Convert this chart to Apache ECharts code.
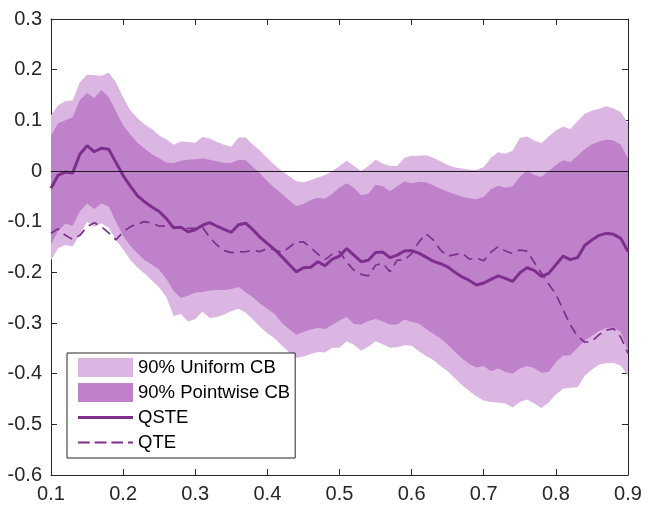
<!DOCTYPE html>
<html>
<head>
<meta charset="utf-8">
<script src="https://cdn.jsdelivr.net/npm/echarts@6/dist/echarts.min.js"></script>
<style>
  html, body { margin: 0; padding: 0; background: #fff; }
  #chart { width: 648px; height: 509px; }
</style>
</head>
<body>
<div id="chart"></div>
<script>
// Quantile grid 0.10 .. 0.90 in steps of 0.01
const quantiles = [
  0.10,0.11,0.12,0.13,0.14,0.15,0.16,0.17,0.18,0.19,
  0.20,0.21,0.22,0.23,0.24,0.25,0.26,0.27,0.28,0.29,
  0.30,0.31,0.32,0.33,0.34,0.35,0.36,0.37,0.38,0.39,
  0.40,0.41,0.42,0.43,0.44,0.45,0.46,0.47,0.48,0.49,
  0.50,0.51,0.52,0.53,0.54,0.55,0.56,0.57,0.58,0.59,
  0.60,0.61,0.62,0.63,0.64,0.65,0.66,0.67,0.68,0.69,
  0.70,0.71,0.72,0.73,0.74,0.75,0.76,0.77,0.78,0.79,
  0.80,0.81,0.82,0.83,0.84,0.85,0.86,0.87,0.88,0.89,
  0.90
];

// 90% uniform confidence band
const uniformUpper = [
  0.110,0.130,0.138,0.139,0.175,0.190,0.189,0.188,0.194,0.175,
  0.145,0.120,0.104,0.092,0.083,0.070,0.062,0.052,0.058,0.057,
  0.056,0.067,0.064,0.057,0.052,0.048,0.066,0.066,0.052,0.040,
  0.025,0.012,0.000,-0.010,-0.020,-0.022,-0.018,-0.013,-0.008,0.000,
  0.010,0.020,0.010,0.000,0.010,0.022,0.015,0.010,0.010,0.026,
  0.030,0.030,0.031,0.026,0.019,0.012,0.007,0.005,0.003,0.002,
  0.008,0.026,0.037,0.034,0.040,0.065,0.068,0.060,0.055,0.068,
  0.080,0.088,0.083,0.098,0.113,0.119,0.123,0.128,0.124,0.116,
  0.094
];
const uniformLower = [
  -0.176,-0.152,-0.146,-0.149,-0.125,-0.100,-0.110,-0.103,-0.112,-0.136,
  -0.155,-0.175,-0.191,-0.203,-0.216,-0.230,-0.249,-0.286,-0.282,-0.297,
  -0.292,-0.278,-0.290,-0.288,-0.283,-0.277,-0.272,-0.280,-0.293,-0.308,
  -0.320,-0.330,-0.345,-0.357,-0.369,-0.366,-0.361,-0.357,-0.358,-0.349,
  -0.349,-0.336,-0.343,-0.355,-0.347,-0.336,-0.342,-0.349,-0.348,-0.344,
  -0.345,-0.356,-0.365,-0.373,-0.385,-0.395,-0.409,-0.423,-0.434,-0.445,
  -0.453,-0.456,-0.457,-0.459,-0.467,-0.456,-0.451,-0.459,-0.468,-0.457,
  -0.441,-0.430,-0.428,-0.427,-0.404,-0.392,-0.382,-0.379,-0.379,-0.384,
  -0.405
];

// 90% pointwise confidence band
const pointwiseUpper = [
  0.070,0.094,0.100,0.106,0.140,0.154,0.144,0.160,0.146,0.118,
  0.090,0.072,0.056,0.044,0.033,0.025,0.017,0.016,0.020,0.022,
  0.023,0.025,0.022,0.019,0.016,0.016,0.022,0.021,0.008,-0.005,
  -0.020,-0.033,-0.045,-0.057,-0.069,-0.065,-0.057,-0.053,-0.055,-0.045,
  -0.033,-0.024,-0.033,-0.048,-0.045,-0.027,-0.030,-0.040,-0.030,-0.020,
  -0.024,-0.021,-0.022,-0.028,-0.035,-0.041,-0.046,-0.051,-0.054,-0.056,
  -0.051,-0.036,-0.029,-0.033,-0.030,-0.012,0.001,-0.008,-0.012,0.000,
  0.012,0.021,0.018,0.030,0.043,0.053,0.058,0.062,0.060,0.052,
  0.025
];
const pointwiseLower = [
  -0.145,-0.118,-0.104,-0.108,-0.080,-0.064,-0.075,-0.064,-0.070,-0.100,
  -0.128,-0.148,-0.163,-0.176,-0.185,-0.195,-0.213,-0.237,-0.250,-0.246,
  -0.240,-0.239,-0.236,-0.235,-0.235,-0.233,-0.229,-0.240,-0.249,-0.262,
  -0.272,-0.282,-0.300,-0.312,-0.323,-0.318,-0.313,-0.310,-0.312,-0.304,
  -0.295,-0.288,-0.302,-0.303,-0.296,-0.292,-0.297,-0.303,-0.303,-0.293,
  -0.298,-0.301,-0.312,-0.321,-0.330,-0.343,-0.357,-0.370,-0.381,-0.388,
  -0.385,-0.395,-0.390,-0.396,-0.400,-0.390,-0.385,-0.389,-0.398,-0.396,
  -0.377,-0.364,-0.364,-0.349,-0.335,-0.325,-0.316,-0.310,-0.309,-0.318,
  -0.355
];

// Point estimates
const qste = [
  -0.034,-0.008,-0.002,-0.004,0.033,0.050,0.038,0.045,0.043,0.017,
  -0.009,-0.030,-0.049,-0.061,-0.071,-0.080,-0.094,-0.112,-0.111,-0.120,
  -0.116,-0.107,-0.102,-0.109,-0.115,-0.121,-0.106,-0.103,-0.116,-0.131,
  -0.143,-0.155,-0.169,-0.184,-0.199,-0.191,-0.190,-0.179,-0.187,-0.174,
  -0.168,-0.153,-0.166,-0.179,-0.176,-0.161,-0.160,-0.171,-0.166,-0.158,
  -0.157,-0.162,-0.170,-0.178,-0.183,-0.189,-0.200,-0.209,-0.216,-0.225,
  -0.221,-0.214,-0.207,-0.212,-0.218,-0.201,-0.191,-0.196,-0.208,-0.202,
  -0.185,-0.168,-0.175,-0.171,-0.147,-0.136,-0.127,-0.123,-0.125,-0.133,
  -0.159
];
const qte = [
  -0.123,-0.114,-0.127,-0.135,-0.127,-0.110,-0.102,-0.110,-0.122,-0.136,
  -0.120,-0.110,-0.104,-0.100,-0.103,-0.109,-0.108,-0.110,-0.112,-0.113,
  -0.113,-0.111,-0.131,-0.146,-0.157,-0.161,-0.160,-0.159,-0.157,-0.159,
  -0.153,-0.155,-0.161,-0.151,-0.140,-0.140,-0.151,-0.164,-0.175,-0.164,
  -0.159,-0.180,-0.196,-0.204,-0.207,-0.186,-0.182,-0.199,-0.176,-0.176,
  -0.163,-0.140,-0.124,-0.136,-0.156,-0.168,-0.165,-0.162,-0.174,-0.172,
  -0.177,-0.160,-0.149,-0.158,-0.163,-0.156,-0.158,-0.180,-0.202,-0.223,
  -0.243,-0.274,-0.304,-0.326,-0.338,-0.336,-0.323,-0.314,-0.311,-0.328,
  -0.360
];

const seriesNames = ['90% Uniform CB', '90% Pointwise CB', 'QSTE', 'QTE'];

const FONT = "'Liberation Sans', Arial, Helvetica, sans-serif";
const AXIS_COLOR = '#262626';
const LINE_COLOR = '#7E2F8E';
const UNIFORM_FILL = '#DCB6E2';
const POINTWISE_FILL = '#BF82CA';

// Legend keys for the two curves: a solid bar and a dashed bar, 55 px wide
const SOLID_KEY = 'path://M0,0H55V3H0Z';
const DASHED_KEY = 'path://M0,0H11.7V1.8H0Z M16.7,0H28.4V1.8H16.7Z M33.4,0H45V1.8H33.4Z M50,0H55V1.8H50Z';

const fmt = v => String(+v.toFixed(1));

// Filled region between an upper and lower curve, drawn as one polygon
function bandSeries(name, upper, lower, fill) {
  return {
    name: name,
    type: 'custom',
    coordinateSystem: 'cartesian2d',
    xAxisIndex: 0,
    yAxisIndex: 0,
    data: [[quantiles[0], upper[0]]],
    itemStyle: { color: fill },
    silent: true,
    renderItem: function (params, api) {
      const pts = [];
      for (let i = 0; i < quantiles.length; i++) pts.push(api.coord([quantiles[i], upper[i]]));
      for (let i = quantiles.length - 1; i >= 0; i--) pts.push(api.coord([quantiles[i], lower[i]]));
      return { type: 'polygon', shape: { points: pts }, style: { fill: fill, stroke: null } };
    }
  };
}

const pairs = ys => quantiles.map((q, i) => [q, ys[i]]);

const chart = echarts.init(document.getElementById('chart'), null, { renderer: 'canvas' });

const xCommon = {
  type: 'value', min: 0.1, max: 0.9, interval: 0.1,
  axisLine: { show: true, onZero: false, lineStyle: { color: AXIS_COLOR, width: 1 } },
  axisTick: { show: true, inside: true, length: 6, lineStyle: { color: AXIS_COLOR, width: 1 } },
  splitLine: { show: false }
};
const yCommon = {
  type: 'value', min: -0.6, max: 0.3, interval: 0.1,
  axisLine: { show: true, onZero: false, lineStyle: { color: AXIS_COLOR, width: 1 } },
  axisTick: { show: true, inside: true, length: 6, lineStyle: { color: AXIS_COLOR, width: 1 } },
  splitLine: { show: false }
};

chart.setOption({
  animation: false,
  backgroundColor: '#ffffff',
  textStyle: { fontFamily: FONT },
  grid: { left: 51, right: 20, top: 19, bottom: 34, containLabel: false },
  xAxis: [
    Object.assign({}, xCommon, {
      position: 'bottom',
      axisLabel: { show: true, margin: 9, color: AXIS_COLOR, fontSize: 20, fontFamily: FONT, formatter: fmt }
    }),
    Object.assign({}, xCommon, { position: 'top', axisLabel: { show: false } })
  ],
  yAxis: [
    Object.assign({}, yCommon, {
      position: 'left',
      axisLabel: { show: true, margin: 9, color: AXIS_COLOR, fontSize: 20, fontFamily: FONT, formatter: fmt }
    }),
    Object.assign({}, yCommon, { position: 'right', axisLabel: { show: false } })
  ],
  legend: {
    orient: 'vertical',
    left: 67,
    top: 353,
    padding: [5, 5, 6, 11],
    itemWidth: 55,
    itemHeight: 19,
    itemGap: 6,
    symbolKeepAspect: true,
    selectedMode: false,
    backgroundColor: '#ffffff',
    borderColor: AXIS_COLOR,
    borderWidth: 1,
    borderRadius: 0,
    textStyle: { fontSize: 18.5, color: '#000', fontFamily: FONT },
    data: [
      { name: seriesNames[0], icon: 'rect' },
      { name: seriesNames[1], icon: 'rect' },
      { name: seriesNames[2], icon: SOLID_KEY, itemStyle: { color: LINE_COLOR } },
      { name: seriesNames[3], icon: DASHED_KEY, itemStyle: { color: LINE_COLOR } }
    ]
  },
  series: [
    bandSeries(seriesNames[0], uniformUpper, uniformLower, UNIFORM_FILL),
    bandSeries(seriesNames[1], pointwiseUpper, pointwiseLower, POINTWISE_FILL),
    {
      name: seriesNames[2],
      type: 'line',
      data: pairs(qste),
      symbol: 'none',
      showSymbol: false,
      silent: true,
      color: LINE_COLOR,
      lineStyle: { color: LINE_COLOR, width: 3 },
      markLine: {
        silent: true,
        symbol: 'none',
        label: { show: false },
        lineStyle: { color: '#1a1a1a', width: 1.2, type: 'solid' },
        data: [{ yAxis: 0 }]
      },
      z: 3
    },
    {
      name: seriesNames[3],
      type: 'line',
      data: pairs(qte),
      symbol: 'none',
      showSymbol: false,
      silent: true,
      color: LINE_COLOR,
      lineStyle: { color: LINE_COLOR, width: 1.7, type: [10, 6] },
      z: 4
    }
  ]
});
</script>
</body>
</html>
